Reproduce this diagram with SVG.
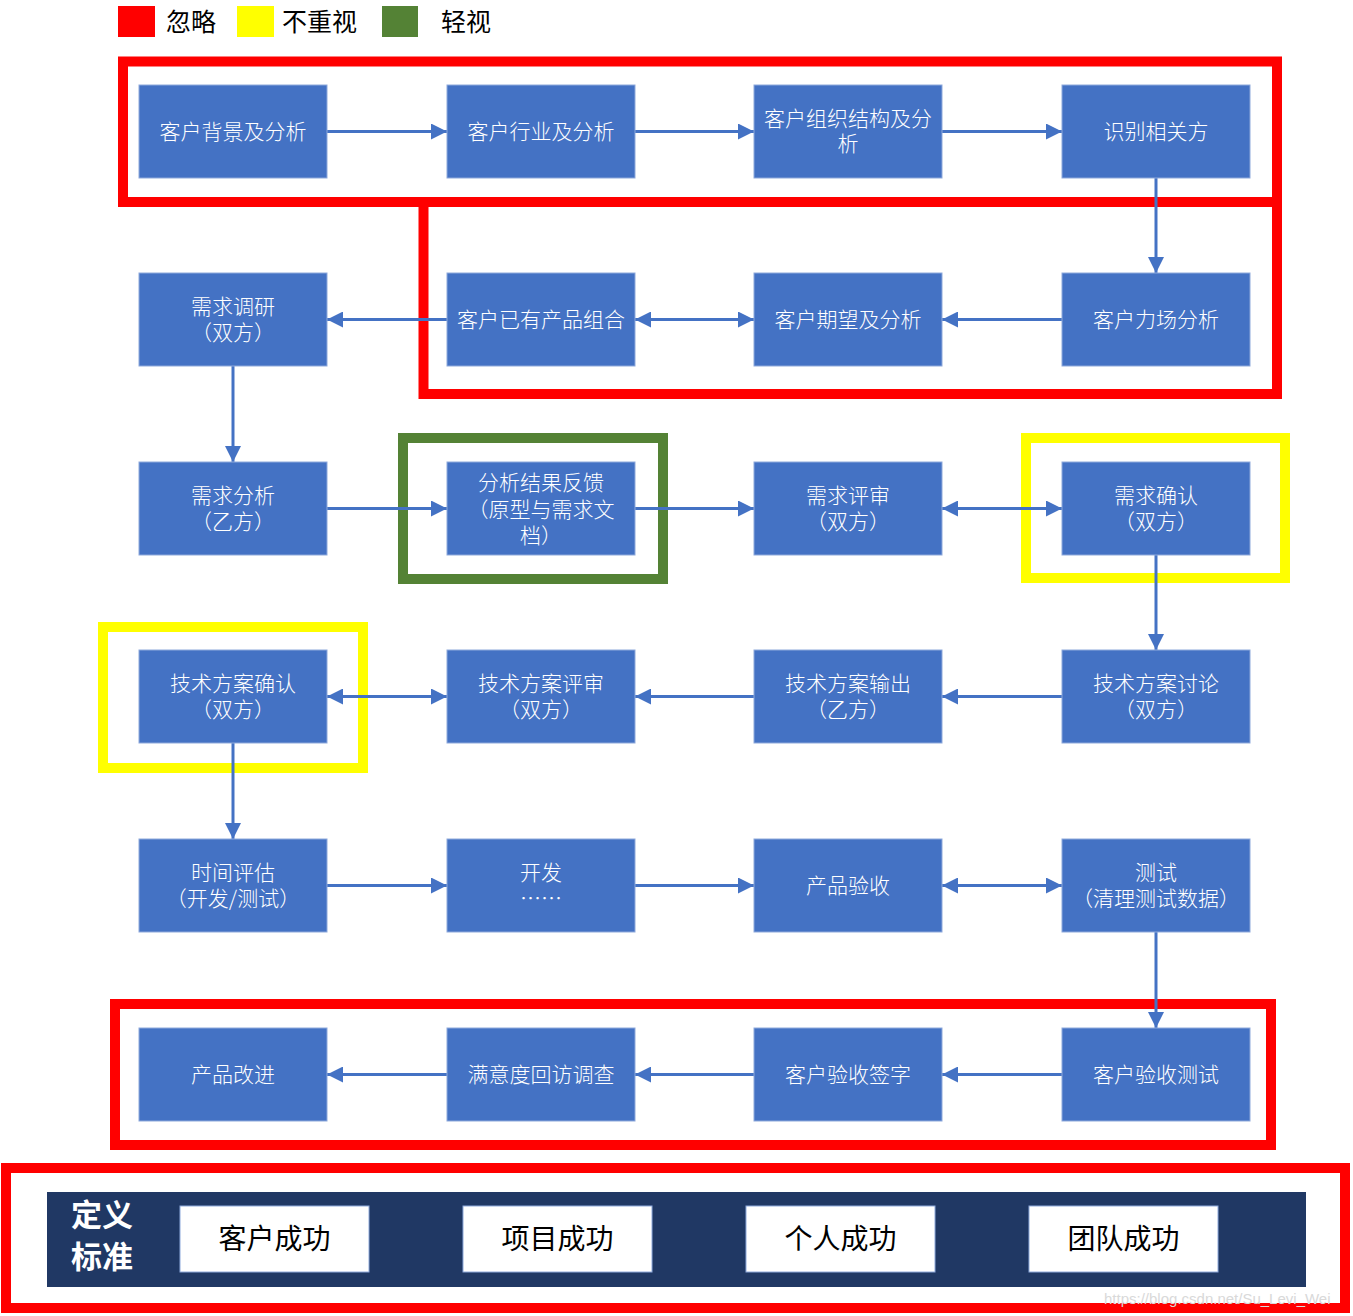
<svg xmlns="http://www.w3.org/2000/svg" width="1353" height="1316" viewBox="0 0 1353 1316">
<defs>
<marker id="ah" viewBox="0 0 16 16" refX="16" refY="8" markerWidth="16" markerHeight="16" orient="auto-start-reverse" markerUnits="userSpaceOnUse"><path d="M0,0 L16,8 L0,16 z" fill="#4472C4"/></marker>
<style>
.node rect{fill:#4472C4;stroke:#8EA9DB;stroke-width:1}
.node text{fill:#fff;font-family:"Noto Sans CJK SC","Microsoft YaHei",sans-serif;font-size:21px;font-weight:300;text-anchor:middle}
.conn line{stroke:#4472C4;stroke-width:3;fill:none}
.one{marker-end:url(#ah)}
.two{marker-start:url(#ah);marker-end:url(#ah)}
.frame{fill:none;stroke-width:10}
.red{stroke:#FF0000}
.yel{stroke:#FFFF00}
.grn{stroke:#548235}
.leg{font-family:"Noto Sans CJK SC",sans-serif;font-size:25px;fill:#000}
.std rect{fill:#fff;stroke:#8EA9DB;stroke-width:1}
.std text{font-family:"Noto Sans CJK SC",sans-serif;font-size:28px;fill:#000;text-anchor:middle}
</style>
</defs>
<rect width="1353" height="1316" fill="#fff"/>

<g id="legend">
<rect x="118" y="6" width="37" height="31" fill="#FF0000"/>
<text class="leg" x="166" y="31">忽略</text>
<rect x="237" y="6" width="37" height="31" fill="#FFFF00"/>
<text class="leg" x="282" y="31">不重视</text>
<rect x="382" y="6" width="36" height="31" fill="#548235"/>
<text class="leg" x="441" y="31">轻视</text>
</g>

<g id="frames">
<rect class="frame red" x="123" y="61.5" width="1154" height="140.5"/>
<rect class="frame red" x="423.5" y="202" width="853.5" height="192"/>
<rect class="frame grn" x="403" y="438" width="260" height="141"/>
<rect class="frame yel" x="1026" y="438" width="259" height="140"/>
<rect class="frame yel" x="103" y="627" width="260" height="141"/>
<rect class="frame red" x="115" y="1004" width="1156" height="141"/>
<rect class="frame red" x="6" y="1168" width="1339" height="140" stroke-width="11"/>
</g>

<g id="connectors" class="conn">
<line class="one" x1="327" y1="131.5" x2="447" y2="131.5"/>
<line class="one" x1="635" y1="131.5" x2="754" y2="131.5"/>
<line class="one" x1="942" y1="131.5" x2="1062" y2="131.5"/>
<line class="one" x1="1156" y1="178" x2="1156" y2="273"/>
<line class="one" x1="1062" y1="319.5" x2="942" y2="319.5"/>
<line class="two" x1="754" y1="319.5" x2="635" y2="319.5"/>
<line class="one" x1="447" y1="319.5" x2="327" y2="319.5"/>
<line class="one" x1="233" y1="366" x2="233" y2="462"/>
<line class="one" x1="327" y1="508.5" x2="447" y2="508.5"/>
<line class="one" x1="635" y1="508.5" x2="754" y2="508.5"/>
<line class="two" x1="942" y1="508.5" x2="1062" y2="508.5"/>
<line class="one" x1="1156" y1="555" x2="1156" y2="650"/>
<line class="one" x1="1062" y1="696.5" x2="942" y2="696.5"/>
<line class="one" x1="754" y1="696.5" x2="635" y2="696.5"/>
<line class="two" x1="447" y1="696.5" x2="327" y2="696.5"/>
<line class="one" x1="233" y1="743" x2="233" y2="839"/>
<line class="one" x1="327" y1="885.5" x2="447" y2="885.5"/>
<line class="one" x1="635" y1="885.5" x2="754" y2="885.5"/>
<line class="two" x1="942" y1="885.5" x2="1062" y2="885.5"/>
<line class="one" x1="1156" y1="932" x2="1156" y2="1028"/>
<line class="one" x1="1062" y1="1074.5" x2="942" y2="1074.5"/>
<line class="one" x1="754" y1="1074.5" x2="635" y2="1074.5"/>
<line class="one" x1="447" y1="1074.5" x2="327" y2="1074.5"/>
</g>

<g id="n1" class="node"><rect x="139" y="85" width="188" height="93"/><text x="233" y="139">客户背景及分析</text></g>
<g id="n2" class="node"><rect x="447" y="85" width="188" height="93"/><text x="541" y="139">客户行业及分析</text></g>
<g id="n3" class="node"><rect x="754" y="85" width="188" height="93"/><text x="848" y="126">客户组织结构及分<tspan x="848" dy="25">析</tspan></text></g>
<g id="n4" class="node"><rect x="1062" y="85" width="188" height="93"/><text x="1156" y="139">识别相关方</text></g>

<g id="n5" class="node"><rect x="1062" y="273" width="188" height="93"/><text x="1156" y="327">客户力场分析</text></g>
<g id="n6" class="node"><rect x="754" y="273" width="188" height="93"/><text x="848" y="327">客户期望及分析</text></g>
<g id="n7" class="node"><rect x="447" y="273" width="188" height="93"/><text x="541" y="327">客户已有产品组合</text></g>
<g id="n8" class="node"><rect x="139" y="273" width="188" height="93"/><text x="233" y="314">需求调研<tspan x="233" dy="26">（双方）</tspan></text></g>

<g id="n9" class="node"><rect x="139" y="462" width="188" height="93"/><text x="233" y="503">需求分析<tspan x="233" dy="26">（乙方）</tspan></text></g>
<g id="n10" class="node"><rect x="447" y="462" width="188" height="93"/><text x="541" y="490">分析结果反馈<tspan x="541" dy="26.5">（原型与需求文</tspan><tspan x="541" dy="26.5">档）</tspan></text></g>
<g id="n11" class="node"><rect x="754" y="462" width="188" height="93"/><text x="848" y="503">需求评审<tspan x="848" dy="26">（双方）</tspan></text></g>
<g id="n12" class="node"><rect x="1062" y="462" width="188" height="93"/><text x="1156" y="503">需求确认<tspan x="1156" dy="26">（双方）</tspan></text></g>

<g id="n13" class="node"><rect x="1062" y="650" width="188" height="93"/><text x="1156" y="691">技术方案讨论<tspan x="1156" dy="26">（双方）</tspan></text></g>
<g id="n14" class="node"><rect x="754" y="650" width="188" height="93"/><text x="848" y="691">技术方案输出<tspan x="848" dy="26">（乙方）</tspan></text></g>
<g id="n15" class="node"><rect x="447" y="650" width="188" height="93"/><text x="541" y="691">技术方案评审<tspan x="541" dy="26">（双方）</tspan></text></g>
<g id="n16" class="node"><rect x="139" y="650" width="188" height="93"/><text x="233" y="691">技术方案确认<tspan x="233" dy="26">（双方）</tspan></text></g>

<g id="n17" class="node"><rect x="139" y="839" width="188" height="93"/><text x="233" y="880">时间评估<tspan x="233" dy="26">（开发/测试）</tspan></text></g>
<g id="n18" class="node"><rect x="447" y="839" width="188" height="93"/><text x="541" y="880">开发<tspan x="541" dy="26">……</tspan></text></g>
<g id="n19" class="node"><rect x="754" y="839" width="188" height="93"/><text x="848" y="893">产品验收</text></g>
<g id="n20" class="node"><rect x="1062" y="839" width="188" height="93"/><text x="1156" y="880">测试<tspan x="1156" dy="26">（清理测试数据）</tspan></text></g>

<g id="n21" class="node"><rect x="1062" y="1028" width="188" height="93"/><text x="1156" y="1082">客户验收测试</text></g>
<g id="n22" class="node"><rect x="754" y="1028" width="188" height="93"/><text x="848" y="1082">客户验收签字</text></g>
<g id="n23" class="node"><rect x="447" y="1028" width="188" height="93"/><text x="541" y="1082">满意度回访调查</text></g>
<g id="n24" class="node"><rect x="139" y="1028" width="188" height="93"/><text x="233" y="1082">产品改进</text></g>

<g id="standards">
<rect x="47" y="1192" width="1259" height="95" fill="#203864"/>
<text x="102" y="1226" font-family="Noto Sans CJK SC,sans-serif" font-size="31" font-weight="bold" fill="#fff" text-anchor="middle">定义<tspan x="102" dy="42">标准</tspan></text>
<g id="s1" class="std"><rect x="180" y="1206" width="189" height="66"/><text x="274.5" y="1249">客户成功</text></g>
<g id="s2" class="std"><rect x="463" y="1206" width="189" height="66"/><text x="557.5" y="1249">项目成功</text></g>
<g id="s3" class="std"><rect x="746" y="1206" width="189" height="66"/><text x="840.5" y="1249">个人成功</text></g>
<g id="s4" class="std"><rect x="1029" y="1206" width="189" height="66"/><text x="1123.5" y="1249">团队成功</text></g>
</g>

<text x="1104" y="1304" font-family="Liberation Sans,sans-serif" font-size="15" fill="#d9d9d9">https://blog.csdn.net/Su_Levi_Wei</text>
</svg>
